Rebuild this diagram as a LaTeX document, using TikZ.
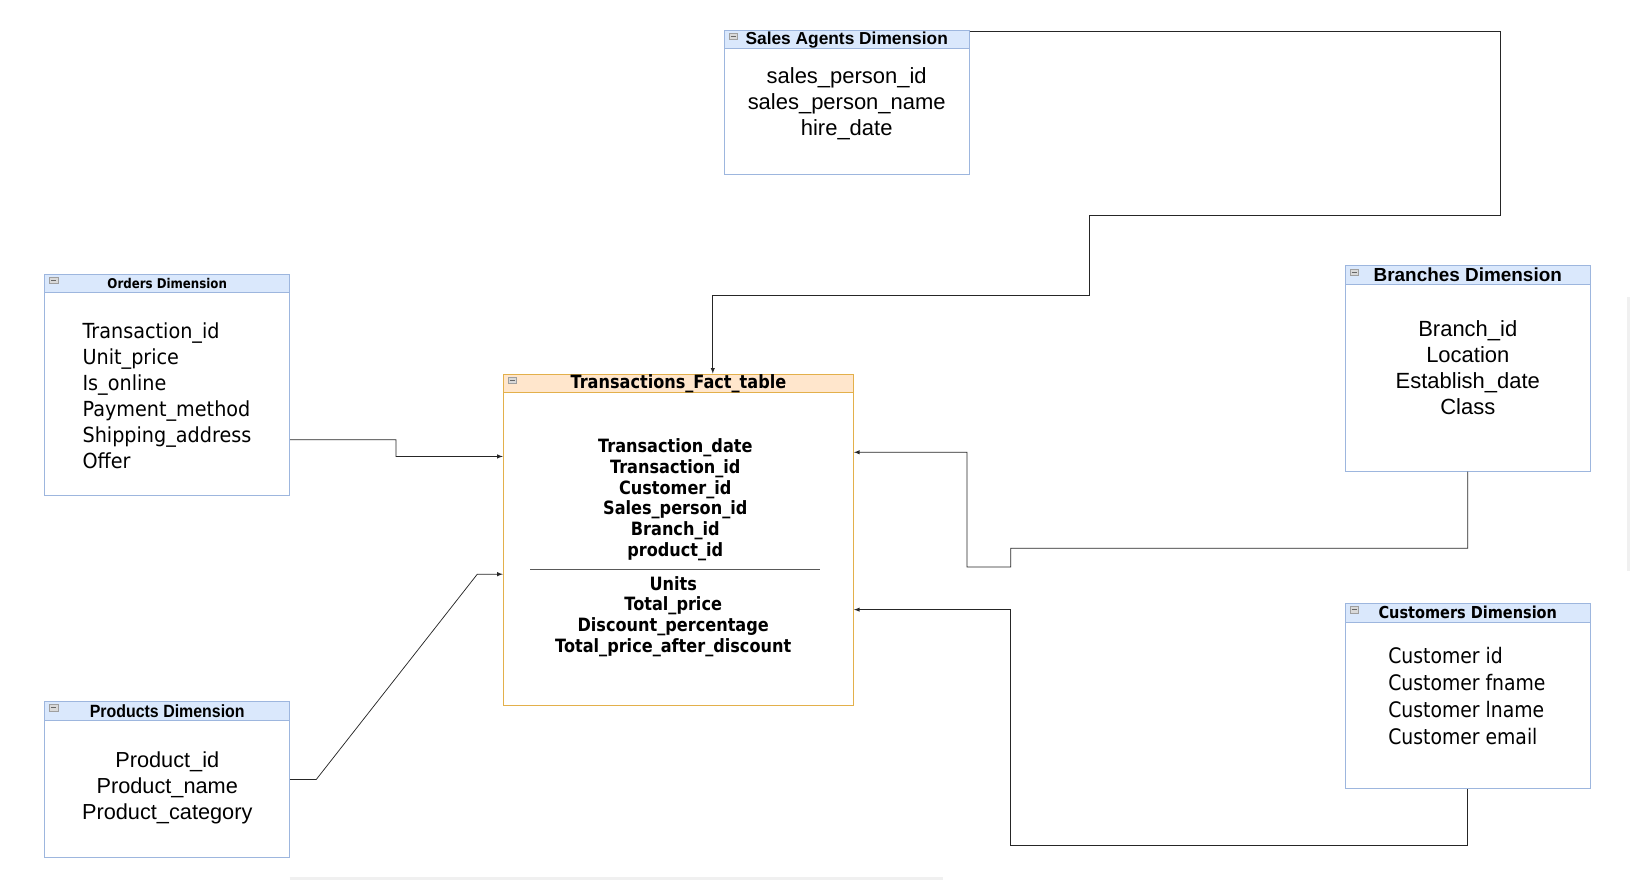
\documentclass[tikz,border=0pt]{standalone}
\usepackage{fontspec}
\setmainfont{Liberation Sans}
\newfontfamily\tahoma[FakeStretch=0.88]{DejaVu Sans}
\newfontfamily\tahomawide[FakeStretch=0.925]{DejaVu Sans}
\newfontfamily\narrowsans[FakeStretch=0.9]{Liberation Sans}
\usetikzlibrary{arrows,calc}
\definecolor{dimfill}{HTML}{DAE8FC}
\definecolor{dimline}{HTML}{9DB6DE}
\definecolor{factfill}{HTML}{FFE6CC}
\definecolor{factline}{HTML}{E3B04B}

% little collapse box in the corner of a table header
\newcommand{\tblicon}[1]{%
  \draw[fill=gray!30, draw=gray!75] ($(#1.north west)+(5,3.5)$) rectangle ++(8,6);
  \draw[gray!80!black] ($(#1.north west)+(6.5,6.5)$) -- ++(5,0);}

\begin{document}
\begin{tikzpicture}[x=0.03cm, y=-0.03cm,
  dimbox/.style={draw=dimline, line width=0.8pt, fill=white, minimum width=7.05cm, inner sep=0pt},
  dimhead/.style={draw=dimline, line width=0.8pt, fill=dimfill, minimum width=7.05cm,
                  minimum height=0.54cm, inner sep=0pt, anchor=north},
  factbox/.style={draw=factline, line width=0.8pt, fill=white, minimum width=10.08cm, inner sep=0pt},
  facthead/.style={draw=factline, line width=0.8pt, fill=factfill, minimum width=10.08cm,
                   minimum height=0.54cm, inner sep=0pt, anchor=north},
  arialtext/.style={align=center, font=\fontsize{18}{21.3}\selectfont},
  conn/.style={draw=black!85, line width=0.6pt},
  connarrow/.style={conn, -latex}]
\useasboundingbox (0,0) rectangle (1568,844.5);

% faint scroll bars of the editor
\draw[gray!12, line width=2.5pt] (278,843) -- (905,843);
\draw[gray!12, line width=2.5pt] (1563,285) -- (1563,548);

% tables
\node[dimbox, minimum height=4.14cm] (sales) at (812.5,98) {};
\node[dimhead, font=\bfseries\fontsize{14.2}{16}\selectfont] (saleshead) at (sales.north) {Sales Agents Dimension};
\tblicon{saleshead}
\node[arialtext] (salesbody) at (812.5,100)
  {sales\_person\_id\\sales\_person\_name\\hire\_date};

\node[dimbox, minimum height=6.36cm] (orders) at (160.5,369) {};
\node[dimhead, font=\tahoma\bfseries\fontsize{11}{13}\selectfont] (ordershead) at (orders.north) {Orders Dimension};
\tblicon{ordershead}
\node[align=left, anchor=west, inner sep=0pt, font=\tahomawide\fontsize{17}{21.3}\selectfont] (ordersbody) at (79,380)
  {Transaction\_id\\Unit\_price\\Is\_online\\Payment\_method\\Shipping\_address\\Offer};

\node[factbox, minimum height=9.54cm] (fact) at (651,518) {};
\node[facthead, font=\tahoma\bfseries\fontsize{15}{17}\selectfont] (facthead) at (fact.north) {Transactions\_Fact\_table};
\tblicon{facthead}
\node[align=center, font=\tahoma\bfseries\fontsize{15}{17}\selectfont] (factkeys) at (648,479.5)
  {Transaction\_date\\Transaction\_id\\Customer\_id\\Sales\_person\_id\\Branch\_id\\product\_id};
\draw[black!65, line width=0.8pt] (509,546) -- (787,546);
\node[align=center, font=\tahoma\bfseries\fontsize{15}{17}\selectfont] (factmeasures) at (646,591.5)
  {Units\\Total\_price\\Discount\_percentage\\Total\_price\_after\_discount};

\node[dimbox, minimum height=5.91cm] (branch) at (1408.5,353.5) {};
\node[dimhead, font=\bfseries\fontsize{15.5}{17}\selectfont] (branchhead) at (branch.north) {Branches Dimension};
\tblicon{branchhead}
\node[arialtext] (branchbody) at (1408.5,353)
  {Branch\_id\\Location\\Establish\_date\\Class};

\node[dimbox, minimum height=5.34cm] (cust) at (1408.5,668) {};
\node[dimhead, font=\tahoma\bfseries\fontsize{13.5}{15}\selectfont] (custhead) at (cust.north) {Customers Dimension};
\tblicon{custhead}
\node[align=left, anchor=west, inner sep=0pt, font=\tahoma\fontsize{17.5}{22}\selectfont] (custbody) at (1332,668)
  {Customer id\\Customer fname\\Customer lname\\Customer email};

\node[dimbox, minimum height=4.5cm] (prod) at (160.5,748) {};
\node[dimhead, font=\narrowsans\bfseries\fontsize{14.5}{16}\selectfont] (prodhead) at (prod.north) {Products Dimension};
\tblicon{prodhead}
\node[align=center, font=\fontsize{17.8}{21.3}\selectfont] (prodbody) at (160.5,756)
  {Product\_id\\Product\_name\\Product\_category};

% connectors
\draw[connarrow] ([yshift=-0.06cm]sales.north east) -| (1440,207) -| (1045,283) -| ([xshift=0.99cm]fact.north);
\draw[connarrow] ([yshift=-1.59cm]orders.east) -| (380,438) -- ([yshift=2.4cm]fact.west);
\draw[connarrow] (prod.east) -- ++(25,0) -- (458,551) -- ([yshift=-0.99cm]fact.west);
\draw[connarrow] (branch.south) |- (970,526) -- (970,544) -| (928,434) -- ([yshift=2.52cm]fact.east);
\draw[connarrow] (cust.south) |- (970,811) |- ([yshift=-2.01cm]fact.east);
\end{tikzpicture}
\end{document}
